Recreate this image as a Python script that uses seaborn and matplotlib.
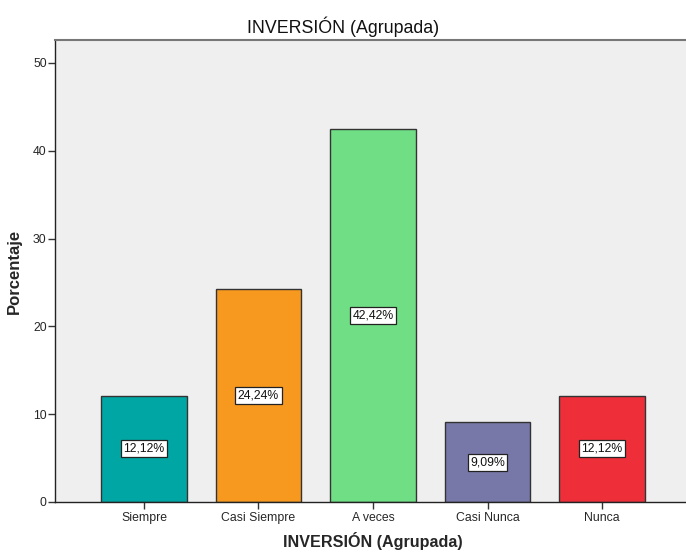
import matplotlib
matplotlib.use("Agg")
import matplotlib.pyplot as plt
import seaborn as sns
import pandas as pd

categorias = ["Siempre", "Casi Siempre", "A veces", "Casi Nunca", "Nunca"]
porcentajes = [12.12, 24.24, 42.42, 9.09, 12.12]
colores = ["#00A6A3", "#F7991F", "#6FDE84", "#7878A8", "#EE2F3A"]
y_ticks = [0, 10, 20, 30, 40, 50]

sns.set_theme(style="white")
plt.rcParams["font.family"] = ["Liberation Sans", "DejaVu Sans"]

df = pd.DataFrame({"categoria": categorias, "porcentaje": porcentajes})

fig = plt.figure(figsize=(6.86, 5.52), dpi=100)
ax = fig.add_axes([55 / 686, 1 - 502 / 552, 636 / 686, 462 / 552])
ax.set_facecolor("#EFEFEF")

sns.barplot(data=df, x="categoria", y="porcentaje", hue="categoria",
            palette=colores, width=0.75, edgecolor="#333333", linewidth=1.0,
            saturation=1, legend=False, ax=ax)

for patch, val in zip(ax.patches, porcentajes):
    cx = patch.get_x() + patch.get_width() / 2
    ax.text(cx, val / 2, f"{val:.2f}%".replace(".", ","), ha="center", va="center",
            fontsize=8.8, color="#111111",
            bbox=dict(boxstyle="square,pad=0.2", facecolor="white",
                      edgecolor="#222222", linewidth=0.9))

ax.set_xlim(-0.777, 4.777)
ax.set_ylim(0, 52.6)
ax.set_yticks(y_ticks)
ax.set_yticklabels([str(t) for t in y_ticks], fontsize=8.8)
ax.tick_params(axis="x", labelsize=8.8, length=5, width=1, color="#333333", pad=2, bottom=True)
ax.tick_params(axis="y", length=5, width=1, color="#333333", pad=1, left=True)

for side in ["left", "bottom"]:
    ax.spines[side].set_color("#222222")
    ax.spines[side].set_linewidth(1.0)
ax.spines["top"].set_color("#777777")
ax.spines["top"].set_linewidth(1.5)
ax.spines["right"].set_visible(False)

ax.set_xlabel("INVERSIÓN (Agrupada)", fontsize=11.6, fontweight="bold", labelpad=6)
ax.set_ylabel("Porcentaje", fontsize=12, fontweight="bold")
ax.yaxis.set_label_coords(-(55 - 22) / 636, 0.5)
fig.text(0.5, 1 - 27 / 552, "INVERSIÓN (Agrupada)", ha="center", va="center",
         fontsize=12.8, color="#111111")

fig.savefig("out.png", dpi=100)
